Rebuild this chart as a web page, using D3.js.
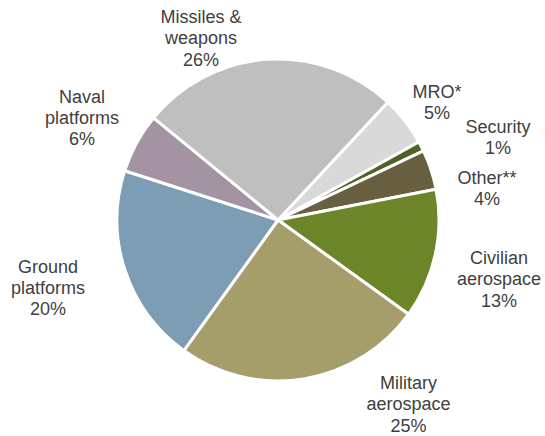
<!DOCTYPE html>
<html>
<head>
<meta charset="utf-8">
<script src="https://cdn.jsdelivr.net/npm/d3@7"></script>
<style>
  html, body { margin: 0; padding: 0; background: #fff; }
  svg { display: block; }
  text { font-family: "Liberation Sans", Arial, sans-serif; fill: #404040; }
</style>
</head>
<body>
<svg id="chart" width="545" height="436"></svg>
<script>
// Segments, listed clockwise starting from MRO
const categories = ["MRO*", "Security", "Other**", "Civilian aerospace", "Military aerospace", "Ground platforms", "Naval platforms", "Missiles & weapons"];
const shares = [5, 1, 4, 13, 25, 20, 6, 26];
const labelLines = [
  ["MRO*", "5%"],
  ["Security", "1%"],
  ["Other**", "4%"],
  ["Civilian", "aerospace", "13%"],
  ["Military", "aerospace", "25%"],
  ["Ground", "platforms", "20%"],
  ["Naval", "platforms", "6%"],
  ["Missiles &", "weapons", "26%"]
];
const colors = ["#d9d9d9", "#4f6228", "#675f3f", "#6c8529", "#a59e6b", "#7c9db3", "#a393a3", "#bfbfbf"];

// Label anchors: centre x and first-line baseline
const labelAnchors = [
  [437, 98], [498, 133], [487, 183.5], [499, 264],
  [408.5, 389], [48, 272.5], [82, 102.5], [201, 23]
];

const svg = d3.select("#chart");
const cx = 278, cy = 220, radius = 161;
const startDeg = 43;

const pie = d3.pie()
  .value(d => d)
  .sort(null)
  .startAngle(startDeg * Math.PI / 180)
  .endAngle((startDeg + 360) * Math.PI / 180);

const arc = d3.arc().innerRadius(0).outerRadius(radius);

const g = svg.append("g").attr("transform", `translate(${cx},${cy})`);

g.selectAll("path")
  .data(pie(shares))
  .join("path")
  .attr("d", arc)
  .attr("fill", (d, i) => colors[i])
  .attr("stroke", "#fff")
  .attr("stroke-width", 3)
  .attr("stroke-linejoin", "round");

const labels = svg.append("g")
  .selectAll("text")
  .data(categories)
  .join("text")
  .attr("text-anchor", "middle")
  .attr("font-size", "18px")
  .attr("x", (d, i) => labelAnchors[i][0])
  .attr("y", (d, i) => labelAnchors[i][1]);

labels.each(function(d, i) {
  const t = d3.select(this);
  labelLines[i].forEach((line, k) => {
    t.append("tspan")
      .attr("x", labelAnchors[i][0])
      .attr("dy", k === 0 ? 0 : 21.3)
      .text(line);
  });
});
</script>
</body>
</html>
